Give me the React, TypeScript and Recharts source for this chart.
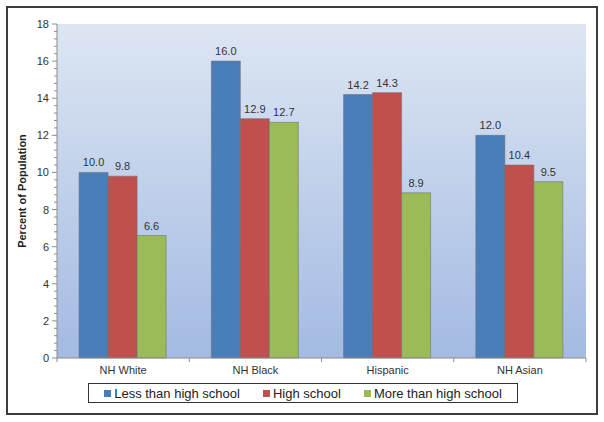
import {
  BarChart,
  Bar,
  XAxis,
  YAxis,
  CartesianGrid,
  LabelList,
} from "recharts";

const groups = ["NH White", "NH Black", "Hispanic", "NH Asian"];
const lessThanHS = [10.0, 16.0, 14.2, 12.0];
const highSchool = [9.8, 12.9, 14.3, 10.4];
const moreThanHS = [6.6, 12.7, 8.9, 9.5];
const majorTicks = [0, 2, 4, 6, 8, 10, 12, 14, 16, 18];

const seriesInfo = [
  { key: "less", name: "Less than high school", color: "#4a7ebb" },
  { key: "hs", name: "High school", color: "#c0504d" },
  { key: "more", name: "More than high school", color: "#9bbb59" },
];

const data = groups.map((g, i) => ({
  name: g,
  less: lessThanHS[i],
  hs: highSchool[i],
  more: moreThanHS[i],
}));

// minor ticks: 5 per major step
const allTicks: number[] = [];
for (let i = 0; i < majorTicks.length - 1; i++) {
  for (let j = 0; j < 5; j++) {
    allTicks.push(Math.round((majorTicks[i] + (j * 2) / 5) * 10) / 10);
  }
}
allTicks.push(majorTicks[majorTicks.length - 1]);

const FONT = "'Liberation Sans', Arial, sans-serif";
const textColor = "#333";
const axisColor = "#8c8c8c";

const YTick = (props: any) => {
  const { x, y, payload } = props;
  const v = payload.value;
  const isMajor = majorTicks.includes(v);
  return (
    <g>
      <line x1={x - (isMajor ? 5 : 3)} x2={x} y1={y} y2={y} stroke={axisColor} />
      {isMajor && (
        <text
          x={x - 8}
          y={y}
          dy={4}
          textAnchor="end"
          fontSize={11}
          fill={textColor}
          fontFamily={FONT}
        >
          {v}
        </text>
      )}
    </g>
  );
};

const XTick = (props: any) => {
  const { x, y, payload, index } = props;
  const half = 66.1;
  return (
    <g>
      <line x1={x - half} x2={x - half} y1={y} y2={y + 4} stroke={axisColor} />
      {index === groups.length - 1 && (
        <line x1={x + half} x2={x + half} y1={y} y2={y + 4} stroke={axisColor} />
      )}
      <text
        x={x}
        y={y + 16}
        textAnchor="middle"
        fontSize={11}
        fill={textColor}
        fontFamily={FONT}
      >
        {payload.value}
      </text>
    </g>
  );
};

export default function App() {
  return (
    <div
      style={{
        position: "absolute",
        left: 0,
        top: 0,
        width: 604,
        height: 422,
        background: "#fff",
        fontFamily: FONT,
      }}
    >
      <div
        style={{
          position: "absolute",
          left: 6,
          top: 6,
          width: 588,
          height: 405,
          border: "2px solid #3c3c3c",
        }}
      />
      <BarChart
        width={604}
        height={422}
        data={data}
        margin={{ top: 24, right: 18, left: 27, bottom: 44 }}
        barCategoryGap="16.7%"
        barGap={0}
      >
        <defs>
          <linearGradient id="plotBg" x1="0" y1="0" x2="0" y2="1">
            <stop offset="0%" stopColor="#dde6f3" />
            <stop offset="100%" stopColor="#a3bae2" />
          </linearGradient>
        </defs>
        <CartesianGrid
          horizontal={false}
          vertical={false}
          fill="url(#plotBg)"
          fillOpacity={1}
        />
        <XAxis
          dataKey="name"
          axisLine={{ stroke: axisColor }}
          tickLine={false}
          tickSize={0}
          tickMargin={0}
          tick={<XTick />}
          height={20}
          interval={0}
        />
        <XAxis
          xAxisId="top"
          dataKey="name"
          orientation="top"
          height={0}
          tick={false}
          tickLine={false}
          axisLine={{ stroke: "#b4b4b4" }}
        />
        <YAxis
          domain={[0, 18]}
          ticks={allTicks}
          interval={0}
          width={30}
          tickSize={0}
          tickMargin={0}
          tickLine={false}
          tick={<YTick />}
          axisLine={{ stroke: axisColor }}
          label={{
            content: (p: any) => {
              const vb = p.viewBox || { y: 24, height: 334 };
              const cy = vb.y + vb.height / 2;
              return (
                <text
                  x={23}
                  y={cy}
                  transform={`rotate(-90 23 ${cy})`}
                  textAnchor="middle"
                  dominantBaseline="middle"
                  fontSize={11}
                  fontWeight="bold"
                  fill="#222"
                  fontFamily={FONT}
                >
                  Percent of Population
                </text>
              );
            },
          }}
        />
        <YAxis
          yAxisId="right"
          orientation="right"
          domain={[0, 18]}
          width={0}
          tick={false}
          tickLine={false}
          axisLine={{ stroke: "#b4b4b4" }}
        />
        {seriesInfo.map((s) => (
          <Bar
            key={s.key}
            dataKey={s.key}
            name={s.name}
            fill={s.color}
            stroke="rgba(110,110,110,0.55)"
            strokeWidth={1}
            isAnimationActive={false}
          >
            <LabelList
              dataKey={s.key}
              position="top"
              offset={6}
              formatter={(v: any) => Number(v).toFixed(1)}
              style={{ fontSize: 11, fill: textColor, fontFamily: FONT }}
            />
          </Bar>
        ))}
      </BarChart>
      <div
        style={{
          position: "absolute",
          left: 88,
          top: 383,
          width: 428,
          height: 18,
          border: "1px solid #333",
          background: "#fff",
          display: "flex",
          alignItems: "center",
          justifyContent: "center",
          gap: 23,
          fontSize: 13,
          color: "#222",
        }}
      >
        {seriesInfo.map((s) => (
          <div key={s.key} style={{ display: "flex", alignItems: "center" }}>
            <span
              style={{
                display: "inline-block",
                width: 7,
                height: 7,
                background: s.color,
                marginRight: 3,
              }}
            />
            <span>{s.name}</span>
          </div>
        ))}
      </div>
    </div>
  );
}
